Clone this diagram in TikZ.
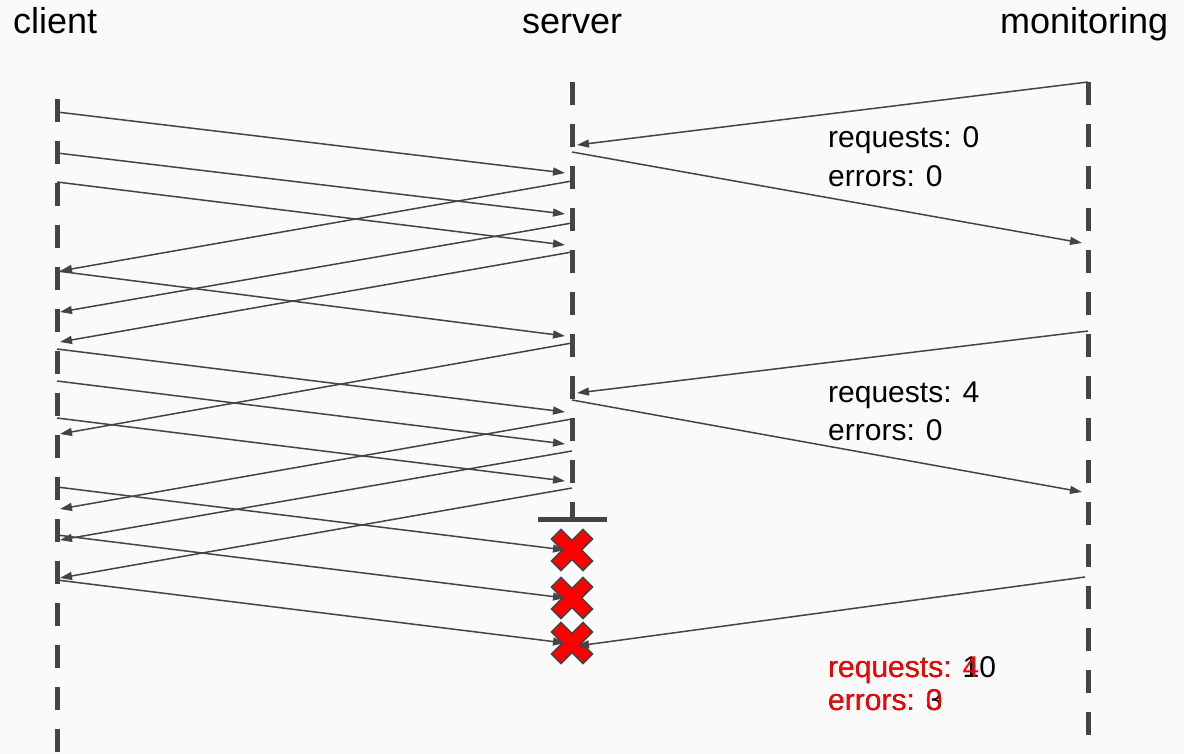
\documentclass[tikz,border=0pt]{standalone}
\usepackage{fontspec}
\setmainfont{Liberation Sans}
\usepackage{tikz}
\usetikzlibrary{arrows.meta}
\definecolor{seqgray}{RGB}{68,68,68}
\definecolor{seqred}{RGB}{255,0,0}
\definecolor{seqbg}{RGB}{250,250,250}
\tikzset{
  lifeline/.style={seqgray, line width=5pt, dash pattern=on 23pt off 19pt},
  msg/.style={seqgray, line width=1.5pt, -{Triangle[length=12pt,width=8pt]}},
  actor/.style={anchor=base west, inner sep=0pt, font=\fontsize{36}{40}\selectfont},
  stat/.style={anchor=base west, inner sep=0pt, font=\fontsize{30}{36}\selectfont},
  failmark/.style={fill=seqred, draw=seqgray, line width=1.5pt},
}

\begin{document}
\begin{tikzpicture}[x=1pt,y=-1pt]
  % Canvas
  \fill[seqbg] (0,0) rectangle (1184,754);
  \useasboundingbox (0,0) rectangle (1184,754);
  % Actors
  \node[actor] (client)  at (13,34)   {client};
  \node[actor] (server)  at (522,34)  {server};
  \node[actor] (monitor) at (1000,34) {monitoring};
  % Lifelines
  \draw[lifeline] (57,99) -- (57,754);
  \draw[lifeline] (572,82) -- (572,519);
  \draw[lifeline] (1088,82) -- (1088,738);
  \draw[seqgray, line width=5pt] (538,519) -- (607,519);
  % Failed requests
  \foreach \i/\y in {1/550, 2/598, 3/643} {
    \coordinate (fail\i) at (572,\y);
    \draw[failmark, shift={(fail\i)}, rotate=45]
      (6.75,6.75) -- (22.25,6.75) -- (22.25,-6.75) -- (6.75,-6.75) --
      (6.75,-22.25) -- (-6.75,-22.25) -- (-6.75,-6.75) -- (-22.25,-6.75) --
      (-22.25,6.75) -- (-6.75,6.75) -- (-6.75,22.25) -- (6.75,22.25) -- cycle;
  }
  % Requests
  \foreach \i/\ya/\yb in {1/112/173, 2/153/214, 3/182/245, 4/271/336,
                          5/349/412, 6/381/444, 7/418/481} {
    \coordinate (req\i) at (57,\ya);
    \coordinate (got\i) at (565,\yb);
    \draw[msg] (req\i) -- (got\i);
  }
  \foreach \i/\ya in {1/487, 2/535, 3/580} {
    \coordinate (lost\i) at (57,\ya);
    \draw[msg] (lost\i) -- ([xshift=-7pt, yshift=0pt]fail\i);
  }
  % Responses
  \foreach \i/\ya/\yb in {1/181/271, 2/223/312, 3/252/342, 4/343/434,
                          5/419/509, 6/451/540, 7/488/578} {
    \coordinate (resp\i) at (572,\ya);
    \coordinate (back\i) at (60,\yb);
    \draw[msg] (resp\i) -- (back\i);
  }
  % Scrapes
  \foreach \i/\ya/\yb/\yc/\yd in {1/82/145/152/243, 2/331/393/400/492} {
    \coordinate (poll\i) at (1088,\ya);
    \coordinate (ask\i)  at (577,\yb);
    \coordinate (ans\i)  at (572,\yc);
    \coordinate (rep\i)  at (1082,\yd);
    \draw[msg] (poll\i) -- (ask\i);
    \draw[msg] (ans\i) -- (rep\i);
  }
  \coordinate (poll3) at (1085,577);
  \draw[msg] (poll3) -- ([xshift=5pt, yshift=-3pt]fail3);
  % Counters
  \node[stat] (reqA) at (828,148) {requests: 0};
  \node[stat] (errA) at (828,187) {errors: 0};
  \node[stat] (reqB) at (828,402) {requests: 4};
  \node[stat] (errB) at (828,440) {errors: 0};
  \node[stat] (reqC) at (828,677) {requests: 10};
  \node[stat] (errC) at (828,710) {errors: 3};
  \node[stat, seqred] (reqD) at (828,677) {requests: 4};
  \node[stat, seqred] (errD) at (828,710) {errors: 0};
\end{tikzpicture}
\end{document}
